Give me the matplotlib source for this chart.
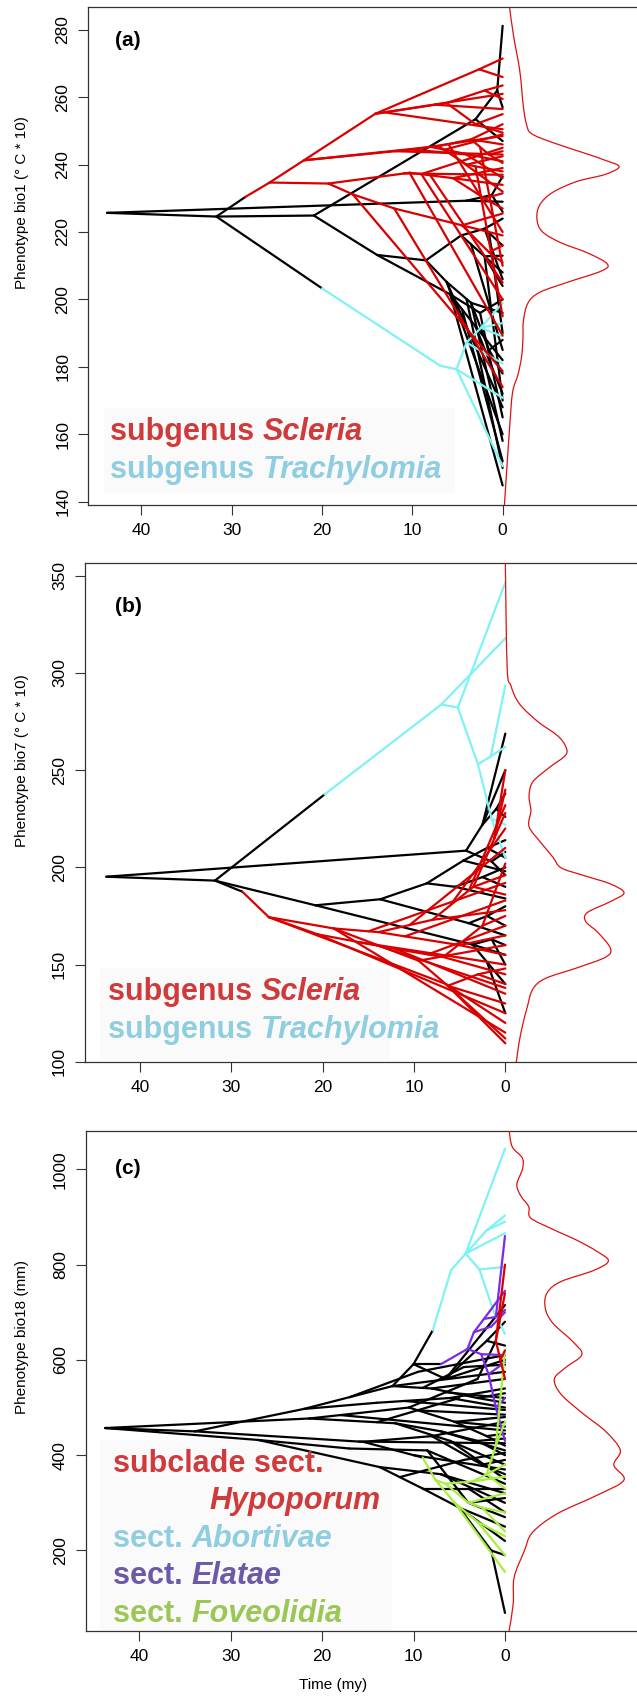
import matplotlib
matplotlib.use('Agg')
import matplotlib.pyplot as plt
from matplotlib.collections import LineCollection
from matplotlib.patches import Rectangle, PathPatch
from matplotlib.path import Path

W, H, DPI = 637, 1696, 100
plt.rcParams['font.family'] = ['Liberation Sans', 'DejaVu Sans']

COL = {'k': '#000000', 'r': '#d90000', 'c': '#7ff2f5', 'p': '#7b2be8', 'g': '#a8ee40'}
LEG = {'r': '#d03a3a', 'c': '#8fcde0', 'p': '#6a5aa8', 'g': '#9cc656'}

x_ticks = [40, 30, 20, 10, 0]
a_yticks = [140, 160, 180, 200, 220, 240, 260, 280]
b_yticks = [100, 150, 200, 250, 300, 350]
c_yticks = [200, 400, 600, 800, 1000]

# branches: (time start, value start, time end, value end, clade)
a_branches = [
    (43.8, 225.7, 31.7, 224.6, 'k'), (43.8, 225.7, 4.0, 229.3, 'k'),
    (31.7, 224.6, 28.5, 230.4, 'k'), (31.7, 224.6, 20.9, 224.9, 'k'),
    (31.7, 224.6, 20.0, 203.3, 'k'), (20.9, 224.9, 3.0, 253.5, 'k'),
    (20.9, 224.9, 13.9, 213.2, 'k'), (13.9, 213.2, 8.5, 211.6, 'k'),
    (13.9, 213.2, 5.8, 201.5, 'k'), (8.5, 211.6, 4.6, 219.0, 'k'),
    (8.5, 211.6, 6.2, 205.2, 'k'), (4.0, 229.3, 1.2, 231.0, 'k'),
    (1.2, 231.0, 0, 236.5, 'k'), (1.2, 231.0, 0, 226.0, 'k'),
    (4.0, 229.3, 0, 229.0, 'k'), (3.0, 253.5, 0.6, 262.0, 'k'),
    (0.6, 262.0, 0, 281.2, 'k'), (0.6, 262.0, 0, 257.0, 'k'),
    (3.0, 253.5, 0, 247.0, 'k'), (4.6, 219.0, 2.0, 221.0, 'k'),
    (2.0, 221.0, 0, 224.0, 'k'), (2.0, 221.0, 0, 216.0, 'k'),
    (4.6, 219.0, 0, 208.0, 'k'), (6.2, 205.2, 3.5, 199.0, 'k'),
    (3.5, 199.0, 0, 196.0, 'k'), (3.5, 199.0, 1.5, 185.0, 'k'),
    (1.5, 185.0, 0, 188.0, 'k'), (1.5, 185.0, 0, 178.0, 'k'),
    (6.2, 205.2, 0, 160.0, 'k'), (5.8, 201.5, 3.0, 192.0, 'k'),
    (3.0, 192.0, 0, 172.0, 'k'), (3.0, 192.0, 0, 182.0, 'k'),
    (5.8, 201.5, 0, 144.8, 'k'), (5.8, 201.5, 2.5, 196.0, 'k'),
    (2.5, 196.0, 0, 165.0, 'k'), (2.5, 196.0, 0, 200.0, 'k'),
    (4.5, 197.1, 0, 152.0, 'k'), (2.0, 212.8, 0, 213.0, 'k'),
    (2.0, 212.8, 0, 204.0, 'k'), (6.2, 205.2, 0, 168.0, 'k'),
    (4.0, 200.1, 0, 150.0, 'k'), (3.5, 199.0, 0, 158.0, 'k'),
    (2.0, 212.8, 0, 170.0, 'k'), (1.5, 219.8, 0, 190.0, 'k'),
    (3.5, 216.4, 0, 185.0, 'k'), (2.0, 221.0, 0, 206.0, 'k'),
    (20.0, 203.3, 6.9, 180.3, 'c'), (6.9, 180.3, 5.1, 179.3, 'c'),
    (5.1, 179.3, 4.0, 187.2, 'c'), (4.0, 187.2, 2.4, 191.6, 'c'),
    (2.4, 191.6, 0, 193.0, 'c'), (2.4, 191.6, 0, 189.0, 'c'),
    (2.4, 191.6, 0, 199.0, 'c'), (4.0, 187.2, 0, 181.0, 'c'),
    (5.1, 179.3, 0, 170.8, 'c'), (5.1, 179.3, 0, 150.5, 'c'),
    (28.5, 230.4, 25.8, 234.7, 'r'), (25.8, 234.7, 22.0, 241.3, 'r'),
    (25.8, 234.7, 19.3, 234.4, 'r'), (22.0, 241.3, 14.1, 255.1, 'r'),
    (22.0, 241.3, 7.1, 245.5, 'r'), (22.0, 241.3, 10.0, 244.5, 'r'),
    (14.1, 255.1, 2.6, 268.3, 'r'), (2.6, 268.3, 0, 271.5, 'r'),
    (2.6, 268.3, 0, 266.0, 'r'), (14.1, 255.1, 6.2, 258.3, 'r'),
    (6.2, 258.3, 2.0, 262.0, 'r'), (2.0, 262.0, 0, 263.5, 'r'),
    (2.0, 262.0, 0, 259.5, 'r'), (6.2, 258.3, 3.0, 252.0, 'r'),
    (3.0, 252.0, 0, 255.0, 'r'), (3.0, 252.0, 0, 249.5, 'r'),
    (14.1, 255.1, 0, 261.0, 'r'), (7.1, 245.5, 3.5, 247.5, 'r'),
    (3.5, 247.5, 0, 252.0, 'r'), (3.5, 247.5, 0, 246.0, 'r'),
    (3.5, 247.5, 1.5, 243.0, 'r'), (1.5, 243.0, 0, 244.0, 'r'),
    (1.5, 243.0, 0, 240.5, 'r'), (7.1, 245.5, 4.0, 240.0, 'r'),
    (4.0, 240.0, 0, 238.0, 'r'), (4.0, 240.0, 0, 242.5, 'r'),
    (10.0, 244.5, 0, 248.5, 'r'), (10.0, 244.5, 4.0, 243.0, 'r'),
    (4.0, 243.0, 0, 236.0, 'r'), (19.3, 234.4, 10.3, 237.6, 'r'),
    (10.3, 237.6, 5.5, 236.0, 'r'), (5.5, 236.0, 0, 239.0, 'r'),
    (5.5, 236.0, 0, 234.0, 'r'), (5.5, 236.0, 2.0, 230.0, 'r'),
    (2.0, 230.0, 0, 231.5, 'r'), (2.0, 230.0, 0, 227.0, 'r'),
    (10.3, 237.6, 0, 189.3, 'r'), (19.3, 234.4, 16.6, 231.2, 'r'),
    (16.6, 231.2, 0, 178.7, 'r'), (16.6, 231.2, 12.0, 227.0, 'r'),
    (12.0, 227.0, 0, 174.0, 'r'), (12.0, 227.0, 4.5, 222.0, 'r'),
    (4.5, 222.0, 0, 219.0, 'r'), (4.5, 222.0, 0, 225.5, 'r'),
    (4.5, 222.0, 1.5, 214.0, 'r'), (1.5, 214.0, 0, 216.0, 'r'),
    (1.5, 214.0, 0, 211.0, 'r'), (8.0, 236.8, 0, 205.0, 'r'),
    (9.0, 237.2, 0, 200.0, 'r'), (3.0, 239.5, 0, 195.0, 'r'),
    (6.0, 246.1, 0, 220.0, 'r'), (2.5, 245.3, 0, 210.0, 'r'),
    (5.0, 241.8, 0, 232.0, 'r'), (13.0, 255.5, 0, 250.5, 'r'),
    (12.0, 244.0, 0, 243.0, 'r'), (9.0, 237.2, 0, 245.0, 'r'),
    (8.0, 245.3, 0, 241.0, 'r'), (6.5, 244.4, 0, 249.0, 'r'),
    (11.0, 237.4, 0, 237.0, 'r'), (7.5, 257.8, 0, 256.5, 'r'),
]

b_branches = [
    (43.7, 195.2, 31.8, 193.2, 'k'), (43.7, 195.2, 4.3, 208.6, 'k'),
    (31.8, 193.2, 19.8, 237.5, 'k'), (31.8, 193.2, 20.8, 180.5, 'k'),
    (31.8, 193.2, 28.8, 187.5, 'k'), (20.8, 180.5, 13.7, 183.6, 'k'),
    (20.8, 180.5, 3.6, 160.3, 'k'), (13.7, 183.6, 8.6, 191.8, 'k'),
    (13.7, 183.6, 4.0, 171.3, 'k'), (8.6, 191.8, 4.6, 203.5, 'k'),
    (8.6, 191.8, 5.5, 190.0, 'k'), (4.6, 203.5, 2.0, 210.0, 'k'),
    (2.0, 210.0, 0, 214.0, 'k'), (2.0, 210.0, 0, 205.0, 'k'),
    (4.6, 203.5, 0, 198.0, 'k'), (5.5, 190.0, 2.5, 195.0, 'k'),
    (2.5, 195.0, 0, 200.0, 'k'), (2.5, 195.0, 0, 190.0, 'k'),
    (5.5, 190.0, 0, 184.0, 'k'), (4.3, 208.6, 2.5, 222.0, 'k'),
    (2.5, 222.0, 0, 268.8, 'k'), (2.5, 222.0, 0, 250.0, 'k'),
    (2.5, 222.0, 1.0, 230.0, 'k'), (1.0, 230.0, 0, 238.0, 'k'),
    (1.0, 230.0, 0, 226.0, 'k'), (4.3, 208.6, 1.5, 203.0, 'k'),
    (1.5, 203.0, 0, 208.0, 'k'), (1.5, 203.0, 0, 196.0, 'k'),
    (4.0, 171.3, 2.0, 175.0, 'k'), (2.0, 175.0, 0, 180.0, 'k'),
    (2.0, 175.0, 0, 170.0, 'k'), (4.0, 171.3, 0, 165.0, 'k'),
    (3.6, 160.3, 0, 155.0, 'k'), (3.6, 160.3, 1.5, 163.0, 'k'),
    (1.5, 163.0, 0, 160.0, 'k'), (1.5, 163.0, 0, 150.0, 'k'),
    (3.6, 160.3, 0, 140.0, 'k'), (2.0, 151.2, 0, 125.0, 'k'),
    (19.8, 237.5, 7.0, 283.8, 'c'), (7.0, 283.8, 5.2, 282.2, 'c'),
    (7.0, 283.8, 0, 317.8, 'c'), (5.2, 282.2, 0, 346.5, 'c'),
    (5.2, 282.2, 3.0, 253.1, 'c'), (3.0, 253.1, 1.6, 257.0, 'c'),
    (1.6, 257.0, 0, 262.0, 'c'), (1.6, 257.0, 0, 293.6, 'c'),
    (3.0, 253.1, 1.5, 225.0, 'c'), (1.5, 225.0, 0, 222.0, 'c'),
    (1.5, 225.0, 0, 205.0, 'c'),
    (28.8, 187.5, 25.9, 174.4, 'r'), (25.9, 174.4, 18.8, 168.6, 'r'),
    (25.9, 174.4, 20.5, 165.5, 'r'), (25.9, 174.4, 6.5, 140.0, 'r'),
    (18.8, 168.6, 13.9, 166.7, 'r'), (18.8, 168.6, 9.5, 152.0, 'r'),
    (13.9, 166.7, 8.0, 173.0, 'r'), (8.0, 173.0, 3.5, 190.0, 'r'),
    (3.5, 190.0, 0, 196.0, 'r'), (3.5, 190.0, 0, 186.0, 'r'),
    (3.5, 190.0, 1.2, 215.0, 'r'), (1.2, 215.0, 0, 250.0, 'r'),
    (1.2, 215.0, 0, 240.0, 'r'), (1.2, 215.0, 0, 228.0, 'r'),
    (8.0, 173.0, 0, 178.0, 'r'), (13.9, 166.7, 5.0, 160.0, 'r'),
    (5.0, 160.0, 0, 165.0, 'r'), (5.0, 160.0, 0, 155.0, 'r'),
    (20.5, 165.5, 12.0, 158.0, 'r'), (12.0, 158.0, 6.8, 153.9, 'r'),
    (6.8, 153.9, 0, 145.0, 'r'), (6.8, 153.9, 2.5, 170.0, 'r'),
    (2.5, 170.0, 0, 175.0, 'r'), (2.5, 170.0, 0, 202.0, 'r'),
    (9.5, 152.0, 6.3, 139.1, 'r'), (6.3, 139.1, 0, 130.0, 'r'),
    (6.3, 139.1, 0, 112.0, 'r'), (6.3, 139.1, 3.0, 145.0, 'r'),
    (3.0, 145.0, 0, 148.0, 'r'), (3.0, 145.0, 0, 140.0, 'r'),
    (6.5, 140.0, 0, 120.0, 'r'), (6.5, 140.0, 0, 109.5, 'r'),
    (9.5, 152.0, 0, 160.0, 'r'), (12.0, 158.0, 0, 135.0, 'r'),
    (20.5, 165.5, 0, 125.0, 'r'), (18.8, 168.6, 0, 115.0, 'r'),
    (10.5, 170.3, 0, 210.0, 'r'), (6.0, 180.6, 0, 220.0, 'r'),
    (4.0, 188.1, 0, 232.0, 'r'), (15.0, 167.1, 0, 192.0, 'r'),
    (16.0, 161.5, 0, 150.0, 'r'), (11.0, 164.5, 0, 183.0, 'r'),
    (8.5, 155.2, 0, 170.0, 'r'), (14.5, 160.6, 0, 138.0, 'r'),
]

c_branches = [
    (43.7, 457, 33.9, 450, 'k'), (43.7, 457, 21.4, 477, 'k'),
    (43.7, 457, 27.0, 432, 'k'), (33.9, 450, 22.0, 497, 'k'),
    (33.9, 450, 15.5, 428, 'k'), (27.0, 432, 13.7, 375, 'k'),
    (27.0, 432, 17.0, 414, 'k'), (21.4, 477, 10.5, 500, 'k'),
    (21.4, 477, 12.0, 467, 'k'), (22.0, 497, 12.3, 545, 'k'),
    (22.0, 497, 14.0, 510, 'k'), (12.3, 545, 10.0, 591, 'k'),
    (10.0, 591, 7.9, 662, 'k'), (10.0, 591, 7.0, 591, 'k'),
    (10.0, 591, 6.5, 560, 'k'), (12.3, 545, 8.0, 540, 'k'),
    (14.0, 510, 6.0, 520, 'k'), (10.5, 500, 5.5, 470, 'k'),
    (10.5, 500, 3.0, 560, 'k'), (12.0, 467, 7.0, 450, 'k'),
    (12.0, 467, 6.0, 430, 'k'), (15.5, 428, 9.0, 395, 'k'),
    (15.5, 428, 8.0, 440, 'k'), (13.7, 375, 9.0, 330, 'k'),
    (13.7, 375, 7.0, 360, 'k'), (17.0, 414, 8.5, 410, 'k'),
    (9.0, 330, 5.0, 290, 'k'), (9.0, 330, 4.0, 330, 'k'),
    (8.0, 540, 0, 560, 'k'), (8.0, 540, 3.0, 520, 'k'),
    (3.0, 520, 0, 530, 'k'), (3.0, 520, 0, 510, 'k'),
    (6.0, 520, 0, 500, 'k'), (6.0, 520, 0, 540, 'k'),
    (5.5, 470, 0, 480, 'k'), (5.5, 470, 0, 460, 'k'),
    (5.5, 470, 2.0, 440, 'k'), (2.0, 440, 0, 445, 'k'),
    (2.0, 440, 0, 420, 'k'), (7.0, 450, 0, 410, 'k'),
    (7.0, 450, 3.0, 430, 'k'), (3.0, 430, 0, 435, 'k'),
    (3.0, 430, 0, 400, 'k'), (6.0, 430, 0, 380, 'k'),
    (6.0, 430, 0, 350, 'k'), (8.0, 440, 0, 470, 'k'),
    (8.0, 440, 2.5, 380, 'k'), (2.5, 380, 0, 390, 'k'),
    (2.5, 380, 0, 360, 'k'), (8.5, 410, 0, 340, 'k'),
    (8.5, 410, 4.0, 300, 'k'), (4.0, 300, 0, 310, 'k'),
    (4.0, 300, 0, 270, 'k'), (7.0, 360, 0, 320, 'k'),
    (7.0, 360, 0, 300, 'k'), (5.0, 290, 0, 250, 'k'),
    (5.0, 290, 0, 220, 'k'), (5.0, 290, 1.5, 200, 'k'),
    (1.5, 200, 0, 190, 'k'), (1.5, 200, 0, 69, 'k'),
    (4.0, 330, 0, 280, 'k'), (4.0, 330, 0, 330, 'k'),
    (6.5, 560, 0, 600, 'k'), (6.5, 560, 2.0, 640, 'k'),
    (2.0, 640, 0, 680, 'k'), (2.0, 640, 0, 630, 'k'),
    (6.5, 560, 0, 715, 'k'), (3.0, 560, 1.0, 640, 'k'),
    (9.5, 494, 0, 485, 'k'), (11.0, 513.8, 0, 495, 'k'),
    (17.0, 521.7, 9.5, 575, 'k'), (9.5, 575, 0, 610, 'k'),
    (12.3, 545, 0, 575, 'k'), (18.0, 484.2, 0, 452, 'k'),
    (14.0, 469.1, 5.0, 520, 'k'), (16.0, 428.6, 0, 425, 'k'),
    (10.0, 400.1, 0, 370, 'k'), (11.5, 353.9, 4.5, 390, 'k'),
    (4.5, 390, 0, 405, 'k'), (6.5, 532, 0, 520, 'k'),
    (9.0, 541.2, 4.5, 585, 'k'), (4.5, 585, 0, 590, 'k'),
    (7.9, 662, 5.9, 788, 'c'), (5.9, 788, 4.3, 823, 'c'),
    (4.3, 823, 0, 1043, 'c'), (4.3, 823, 2.0, 872, 'c'),
    (2.0, 872, 0, 903, 'c'), (2.0, 872, 0, 890, 'c'),
    (4.3, 823, 0, 866, 'c'), (4.3, 823, 2.8, 790, 'c'),
    (2.8, 790, 0, 795, 'c'), (2.8, 790, 1.2, 700, 'c'),
    (1.2, 700, 0, 655, 'c'),
    (7.0, 591, 4.1, 623, 'p'), (4.1, 623, 3.4, 658, 'p'),
    (3.4, 658, 2.3, 686, 'p'), (2.3, 686, 0, 745, 'p'),
    (2.3, 686, 1.0, 690, 'p'), (1.0, 690, 0, 705, 'p'),
    (1.0, 690, 0, 860, 'p'), (3.4, 658, 1.5, 670, 'p'),
    (1.5, 670, 0, 700, 'p'), (4.1, 623, 2.6, 612, 'p'),
    (2.6, 612, 1.8, 570, 'p'), (1.8, 570, 0, 595, 'p'),
    (1.8, 570, 1.0, 500, 'p'), (1.0, 500, 0, 430, 'p'),
    (1.0, 500, 0, 520, 'p'), (2.6, 612, 0, 610, 'p'),
    (1.0, 640, 0, 800, 'r'), (1.0, 640, 0, 740, 'r'),
    (1.0, 640, 0.5, 600, 'r'), (0.5, 600, 0, 560, 'r'),
    (0.5, 600, 0, 620, 'r'),
    (9.0, 395, 7.6, 348, 'g'), (7.6, 348, 6.5, 340, 'g'),
    (7.6, 348, 5.5, 300, 'g'), (6.5, 340, 3.5, 345, 'g'),
    (3.5, 345, 0, 355, 'g'), (3.5, 345, 2.0, 360, 'g'),
    (2.0, 360, 0, 380, 'g'), (2.0, 360, 0, 330, 'g'),
    (6.5, 340, 4.0, 300, 'g'), (4.0, 300, 0, 320, 'g'),
    (4.0, 300, 2.5, 290, 'g'), (2.5, 290, 0, 280, 'g'),
    (2.5, 290, 0, 240, 'g'), (5.5, 300, 0, 155, 'g'),
    (5.5, 300, 3.0, 260, 'g'), (3.0, 260, 0, 190, 'g'),
    (3.0, 260, 0, 230, 'g'), (2.0, 360, 1.0, 420, 'g'),
    (1.0, 420, 0, 470, 'g'), (1.0, 420, 0, 619, 'g'),
]

# tip-value densities: value, width (time units, drawn to the right of 0)
a_dens_v = [286.7, 278.4, 267.8, 257.2, 251.9, 249.2, 246.6, 243.4, 241.3, 239.4,
            237.1, 235.0, 231.7, 228.0, 223.8, 220.1, 216.9, 213.7, 210.5, 208.4,
            205.2, 202.1, 198.9, 193.6, 188.3, 183.0, 177.7, 172.4, 161.8, 151.2, 139.0]
a_dens_w = [0.77, 1.2, 1.9, 2.3, 2.65, 3.2, 5.5, 9.1, 11.35, 12.9,
            11.35, 8.2, 5.5, 4.1, 3.8, 4.4, 6.4, 9.5, 11.6, 10.9,
            7.3, 4.1, 2.8, 2.3, 2.25, 2.1, 1.7, 1.1, 0.77, 0.5, 0.2]
b_dens_v = [356.4, 302.8, 293.6, 284.4, 275.2, 267.8, 262.3, 257.7, 251.3, 243.9,
            236.6, 229.2, 221.0, 212.7, 205.3, 199.8, 196.1, 191.5, 186.9, 182.4,
            176.8, 172.2, 166.7, 158.5, 153.9, 148.4, 142.9, 137.3, 128.1, 119.0,
            109.7, 99.6]
b_dens_w = [0.0, 0.2, 0.6, 1.5, 3.5, 5.7, 6.6, 6.6, 4.8, 3.0,
            2.6, 2.8, 2.6, 3.9, 5.2, 6.1, 8.4, 11.5, 13.0, 11.5,
            9.0, 8.8, 10.1, 11.5, 11.0, 7.9, 4.4, 3.0, 2.4, 1.9,
            1.5, 1.2]
c_dens_v = [1081, 1047, 1023.6, 1000, 968.6, 945, 921.4, 898, 874.3, 850.7,
            827.1, 807.5, 787.8, 764.2, 740.7, 709.2, 677.8, 638.5, 611, 583.5,
            560, 528.5, 489.2, 449.9, 410.6, 379.2, 347.7, 316.3, 277, 237.7,
            198.4, 143.4, 88.4, 31]
c_dens_w = [0.45, 0.8, 1.9, 1.9, 1.3, 1.7, 2.6, 2.8, 5.2, 7.9,
            10.1, 11.3, 9.7, 6.1, 4.6, 4.4, 5.2, 7.4, 8.4, 6.6,
            5.4, 6.1, 8.4, 11.0, 12.6, 11.9, 13.0, 10.1, 5.7, 3.0,
            2.1, 1.0, 0.9, 0.45]

fig = plt.figure(figsize=(W / DPI, H / DPI), dpi=DPI)


def fx(px):
    return px / W


def fy(py):
    return 1 - py / H


def make_axes(left, top, bottom, xlim, ylim, yticks):
    ax = fig.add_axes([fx(left), fy(bottom), 1 - fx(left), (bottom - top) / H])
    ax.set_xlim(*xlim)
    ax.set_ylim(*ylim)
    ax.spines['right'].set_visible(False)
    for s in ('left', 'top', 'bottom'):
        ax.spines[s].set_linewidth(0.9)
        ax.spines[s].set_color('#333333')
    ax.set_xticks(x_ticks)
    ax.set_xticklabels([str(t) for t in x_ticks])
    ax.set_yticks(yticks)
    ax.set_yticklabels([str(t) for t in yticks], rotation=90, va='center')
    ax.tick_params(direction='out', length=7, width=0.8, color='#333333',
                   labelsize=12.5, pad=6)
    return ax


def smooth_curve(ax, xs, ys, color):
    # draw a smooth curve through the read points (Catmull-Rom as Bezier)
    pts = list(zip(xs, ys))
    n = len(pts)
    verts = [pts[0]]
    codes = [Path.MOVETO]
    for i in range(n - 1):
        p0 = pts[i - 1] if i > 0 else pts[i]
        p1 = pts[i]
        p2 = pts[i + 1]
        p3 = pts[i + 2] if i + 2 < n else pts[i + 1]
        c1 = (p1[0] + (p2[0] - p0[0]) / 6, p1[1] + (p2[1] - p0[1]) / 6)
        c2 = (p2[0] - (p3[0] - p1[0]) / 6, p2[1] - (p3[1] - p1[1]) / 6)
        verts += [c1, c2, p2]
        codes += [Path.CURVE4] * 3
    ax.add_patch(PathPatch(Path(verts, codes), facecolor='none',
                           edgecolor=color, lw=0.9, zorder=3))


def draw_tree(ax, branches, dens_v, dens_w):
    for key in ['k', 'c', 'p', 'g', 'r']:
        segs = [[(b[0], b[1]), (b[2], b[3])] for b in branches if b[4] == key]
        if segs:
            lc = LineCollection(segs, colors=COL[key], linewidths=1.6,
                                capstyle='round', joinstyle='round', zorder=2)
            ax.add_collection(lc)
    smooth_curve(ax, [-w for w in dens_w], dens_v, '#dd1111')


def legend_box(ax, x0, y0, x1, y1):
    ax.add_patch(Rectangle((fx(x0), fy(y1)), fx(x1) - fx(x0), (y1 - y0) / H,
                           transform=fig.transFigure, facecolor='#fafafa',
                           edgecolor='none', zorder=1))


def two_part(ax, x, y, plain, ital, color):
    t1 = fig.text(fx(x), fy(y), plain, color=color, fontsize=22,
                  fontweight='bold', ha='left', va='center', zorder=5)
    ax.annotate(ital, xy=(1, 0.5), xycoords=t1, color=color, fontsize=22,
                fontweight='bold', fontstyle='italic', ha='left', va='center',
                zorder=5, annotation_clip=False)


# ---- panel (a)
ax_a = make_axes(88.3, 7.3, 505, (45.88, -14.88), (139.0, 286.7), a_yticks)
draw_tree(ax_a, a_branches, a_dens_v, a_dens_w)
legend_box(ax_a, 104, 408, 455, 493)
two_part(ax_a, 110, 432, 'subgenus ', 'Scleria', LEG['r'])
two_part(ax_a, 110, 470, 'subgenus ', 'Trachylomia', LEG['c'])
fig.text(fx(128), fy(40), '(a)', fontsize=15, fontweight='bold', ha='center', va='center')
fig.text(fx(22), fy(203), 'Phenotype bio1 (° C * 10)', rotation=90, fontsize=11,
         ha='center', va='center')

# ---- panel (b)
ax_b = make_axes(85, 563.3, 1062, (46.03, -14.42), (99.9, 356.4), b_yticks)
draw_tree(ax_b, b_branches, b_dens_v, b_dens_w)
legend_box(ax_b, 100, 968, 390, 1060)
two_part(ax_b, 108, 992, 'subgenus ', 'Scleria', LEG['r'])
two_part(ax_b, 108, 1030, 'subgenus ', 'Trachylomia', LEG['c'])
fig.text(fx(128), fy(607), '(b)', fontsize=15, fontweight='bold', ha='center', va='center')
fig.text(fx(22), fy(761), 'Phenotype bio7 (° C * 10)', rotation=90, fontsize=11,
         ha='center', va='center')

# ---- panel (c)
ax_c = make_axes(86, 1130.7, 1631, (45.8, -14.43), (31, 1081), c_yticks)
draw_tree(ax_c, c_branches, c_dens_v, c_dens_w)
legend_box(ax_c, 100, 1440, 392, 1630)
fig.text(fx(113), fy(1464), 'subclade sect.', color=LEG['r'], fontsize=22,
         fontweight='bold', ha='left', va='center', zorder=5)
fig.text(fx(209), fy(1501), 'Hypoporum', color=LEG['r'], fontsize=22,
         fontweight='bold', fontstyle='italic', ha='left', va='center', zorder=5)
two_part(ax_c, 113, 1539, 'sect. ', 'Abortivae', LEG['c'])
two_part(ax_c, 113, 1576, 'sect. ', 'Elatae', LEG['p'])
two_part(ax_c, 113, 1614, 'sect. ', 'Foveolidia', LEG['g'])
fig.text(fx(128), fy(1169), '(c)', fontsize=15, fontweight='bold', ha='center', va='center')
fig.text(fx(22), fy(1337), 'Phenotype bio18 (mm)', rotation=90, fontsize=11,
         ha='center', va='center')
fig.text(fx(333), fy(1685), 'Time (my)', fontsize=11, ha='center', va='center')

fig.savefig('out.png', dpi=DPI)
